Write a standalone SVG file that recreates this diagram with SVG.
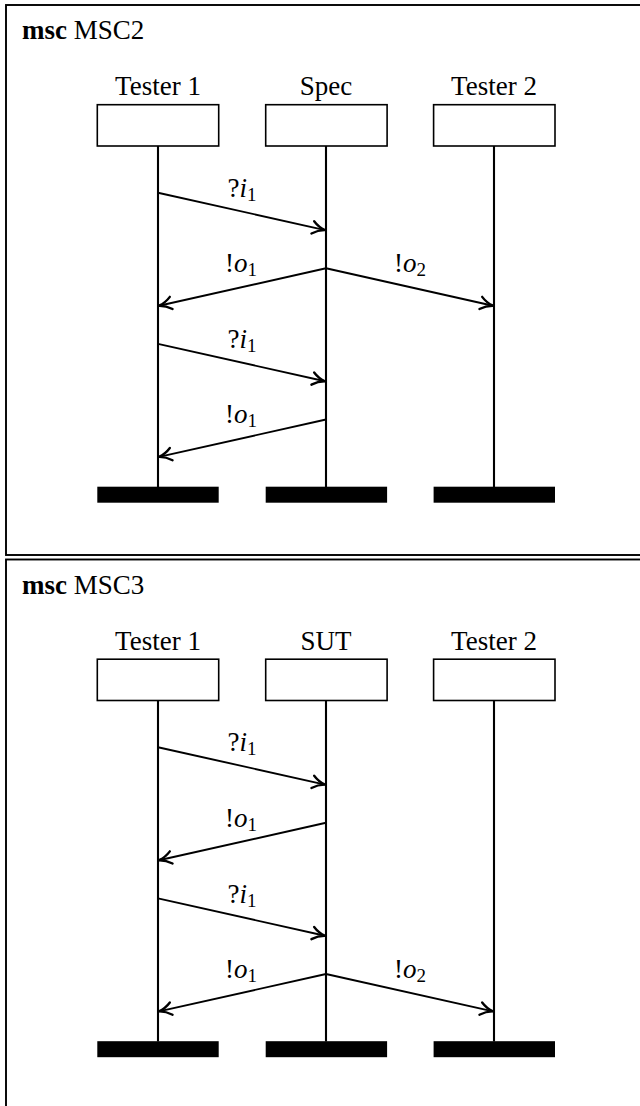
<svg xmlns="http://www.w3.org/2000/svg" width="640" height="1106" viewBox="0 0 640 1106">
<style>
text{font-family:"Liberation Serif","DejaVu Serif",serif;font-size:27px;fill:#000}
.c{text-anchor:middle}
.frame{fill:none;stroke:#000;stroke-width:1.9}
.box{fill:#fff;stroke:#000;stroke-width:1.6}
.life{stroke:#000;stroke-width:2.1}
.bar{fill:#000}
.msg{fill:none;stroke:#000;stroke-width:1.9;marker-end:url(#arr)}
.it{font-style:italic}
.sub{font-size:19px}
</style>
<defs>
<marker id="arr" markerUnits="userSpaceOnUse" markerWidth="20" markerHeight="20" viewBox="-12 -8 16 16" refX="0" refY="0" orient="auto" overflow="visible">
<path d="M -10 -5 C -6.5 -2 -3 -0.6 0 0 C -3 0.6 -6.5 2 -10 5" fill="none" stroke="#000" stroke-width="1.9" stroke-linecap="round"/>
</marker>
</defs>
<rect width="640" height="1106" fill="#fff"/>

<g id="msc2">
<rect class="frame" x="6" y="5" width="650" height="550"/>
<text x="22" y="39"><tspan font-weight="bold">msc</tspan> MSC2</text>
<g id="m2-tester1">
<text class="c" x="158" y="95">Tester 1</text>
<rect class="box" x="97.3" y="104.7" width="121.4" height="41.3"/>
<line class="life" x1="158" y1="146" x2="158" y2="487"/>
<rect class="bar" x="97.3" y="486.7" width="121.4" height="16"/>
</g>
<g id="m2-spec">
<text class="c" x="326" y="95">Spec</text>
<rect class="box" x="265.7" y="104.7" width="121.4" height="41.3"/>
<line class="life" x1="326" y1="146" x2="326" y2="487"/>
<rect class="bar" x="265.7" y="486.7" width="121.4" height="16"/>
</g>
<g id="m2-tester2">
<text class="c" x="494" y="95">Tester 2</text>
<rect class="box" x="433.6" y="104.7" width="121.4" height="41.3"/>
<line class="life" x1="494" y1="146" x2="494" y2="487"/>
<rect class="bar" x="433.6" y="486.7" width="121.4" height="16"/>
</g>
<g id="m2-connectors">
<line class="msg" x1="158" y1="192.7" x2="325" y2="230.1"/>
<text class="c" x="242" y="196.8">?<tspan class="it">i</tspan><tspan class="sub" dy="4">1</tspan></text>
<line class="msg" x1="326" y1="268.3" x2="159" y2="305.7"/>
<text class="c" x="241" y="272">!<tspan class="it">o</tspan><tspan class="sub" dy="4">1</tspan></text>
<line class="msg" x1="326" y1="268.3" x2="493" y2="305.7"/>
<text class="c" x="410" y="272">!<tspan class="it">o</tspan><tspan class="sub" dy="4">2</tspan></text>
<line class="msg" x1="158" y1="343.9" x2="325" y2="381.3"/>
<text class="c" x="242" y="348">?<tspan class="it">i</tspan><tspan class="sub" dy="4">1</tspan></text>
<line class="msg" x1="326" y1="419.5" x2="159" y2="456.9"/>
<text class="c" x="241" y="423.3">!<tspan class="it">o</tspan><tspan class="sub" dy="4">1</tspan></text>
</g>
</g>

<g id="msc3">
<rect class="frame" x="6" y="559.5" width="650" height="560"/>
<text x="22" y="593.5"><tspan font-weight="bold">msc</tspan> MSC3</text>
<g id="m3-tester1">
<text class="c" x="158" y="649.5">Tester 1</text>
<rect class="box" x="97.3" y="659.2" width="121.4" height="41.3"/>
<line class="life" x1="158" y1="700.5" x2="158" y2="1041.5"/>
<rect class="bar" x="97.3" y="1041.2" width="121.4" height="16"/>
</g>
<g id="m3-sut">
<text class="c" x="326" y="649.5">SUT</text>
<rect class="box" x="265.7" y="659.2" width="121.4" height="41.3"/>
<line class="life" x1="326" y1="700.5" x2="326" y2="1041.5"/>
<rect class="bar" x="265.7" y="1041.2" width="121.4" height="16"/>
</g>
<g id="m3-tester2">
<text class="c" x="494" y="649.5">Tester 2</text>
<rect class="box" x="433.6" y="659.2" width="121.4" height="41.3"/>
<line class="life" x1="494" y1="700.5" x2="494" y2="1041.5"/>
<rect class="bar" x="433.6" y="1041.2" width="121.4" height="16"/>
</g>
<g id="m3-connectors">
<line class="msg" x1="158" y1="747.2" x2="325" y2="784.6"/>
<text class="c" x="242" y="751.3">?<tspan class="it">i</tspan><tspan class="sub" dy="4">1</tspan></text>
<line class="msg" x1="326" y1="822.8" x2="159" y2="860.2"/>
<text class="c" x="241" y="826.5">!<tspan class="it">o</tspan><tspan class="sub" dy="4">1</tspan></text>
<line class="msg" x1="158" y1="898.4" x2="325" y2="935.8"/>
<text class="c" x="242" y="902.5">?<tspan class="it">i</tspan><tspan class="sub" dy="4">1</tspan></text>
<line class="msg" x1="326" y1="974" x2="159" y2="1011.4"/>
<text class="c" x="241" y="977.8">!<tspan class="it">o</tspan><tspan class="sub" dy="4">1</tspan></text>
<line class="msg" x1="326" y1="974" x2="493" y2="1011.4"/>
<text class="c" x="410" y="977.8">!<tspan class="it">o</tspan><tspan class="sub" dy="4">2</tspan></text>
</g>
</g>
</svg>
